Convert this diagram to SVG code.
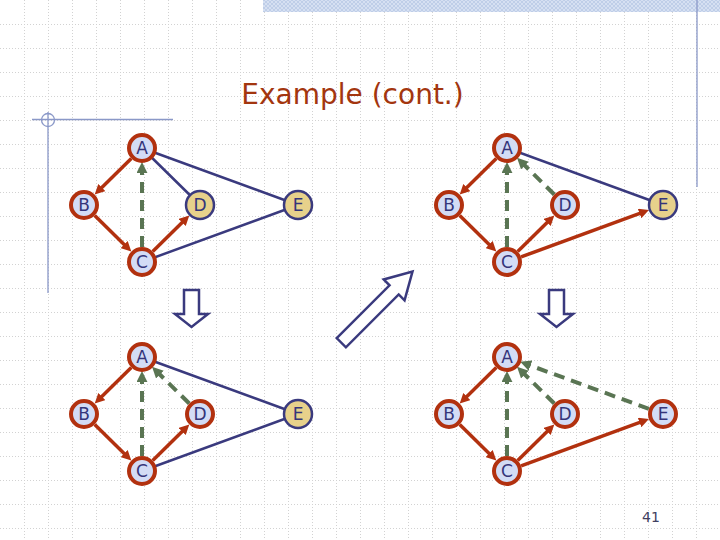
<svg xmlns="http://www.w3.org/2000/svg" width="720" height="540" viewBox="0 0 720 540">
<defs>
<style>
.grid{stroke:#d2d2d2;stroke-width:1;stroke-dasharray:1 2;fill:none}
.deco{stroke:#8a98c8;stroke-width:1.3;fill:none}
.title{font-family:"DejaVu Sans",Verdana,sans-serif;font-size:28px;fill:#a3360f}
.lbl{font-family:"DejaVu Sans",Verdana,sans-serif;font-size:17px;fill:#35357a;text-anchor:middle}
.num{font-family:"DejaVu Sans",Verdana,sans-serif;font-size:14px;fill:#404060;text-anchor:middle}
.vis{fill:#d3dcf5;stroke:#b2310f;stroke-width:4}
.unv{fill:#e7d18b;stroke:#3a3a7e;stroke-width:2.5}
.tree{stroke:#b2310f;stroke-width:3.5;fill:none;marker-end:url(#ared)}
.back{stroke:#5a7553;stroke-width:4;fill:none;stroke-dasharray:11 7;marker-end:url(#agreen)}
.unex{stroke:#3a3a7e;stroke-width:2.5;fill:none}
.block{fill:#ffffff;stroke:#3a3a7e;stroke-width:2.5;stroke-linejoin:miter}
</style>
<marker id="ared" viewBox="0 0 10 10" refX="1" refY="5" markerWidth="10" markerHeight="10" markerUnits="userSpaceOnUse" orient="auto">
<path d="M0,0 L10,5 L0,10 z" fill="#b2310f"/>
</marker>
<marker id="agreen" viewBox="0 0 10 10" refX="1" refY="5" markerWidth="11" markerHeight="11" markerUnits="userSpaceOnUse" orient="auto">
<path d="M0,0 L10,5 L0,10 z" fill="#5a7553"/>
</marker>
<pattern id="hatch" width="4" height="4" patternUnits="userSpaceOnUse">
<rect width="4" height="4" fill="#d6e0f2"/>
<path d="M0,4 L4,0 M0,0 L4,4" stroke="#b9c9e6" stroke-width="0.8"/>
</pattern>
</defs>
<rect width="720" height="540" fill="#ffffff"/>
<g id="background">
<path class="grid" d="M0 24.5H720M0 48.5H720M0 72.5H720M0 96.5H720M0 120.5H720M0 144.5H720M0 168.5H720M0 192.5H720M0 216.5H720M0 240.5H720M0 264.5H720M0 288.5H720M0 312.5H720M0 336.5H720M0 360.5H720M0 384.5H720M0 408.5H720M0 432.5H720M0 456.5H720M0 480.5H720M0 504.5H720M0 528.5H720"/>
<path class="grid" d="M24.5 0V540M48.5 0V540M72.5 0V540M96.5 0V540M120.5 0V540M144.5 0V540M168.5 0V540M192.5 0V540M216.5 0V540M240.5 0V540M264.5 0V540M288.5 0V540M312.5 0V540M336.5 0V540M360.5 0V540M384.5 0V540M408.5 0V540M432.5 0V540M456.5 0V540M480.5 0V540M504.5 0V540M528.5 0V540M552.5 0V540M576.5 0V540M600.5 0V540M624.5 0V540M648.5 0V540M672.5 0V540M696.5 0V540"/>
<rect x="263" y="0" width="457" height="12" fill="url(#hatch)"/>
<path class="deco" d="M697 0V187"/>
<path class="deco" d="M32 119.5H173M48 112V293"/>
<circle class="deco" cx="48" cy="120" r="6.5"/>
</g>
<text class="title" x="352.5" y="104" text-anchor="middle">Example (cont.)</text>

<!-- Top-left graph -->
<g id="graph-tl">
<g id="tl-connectors">
<path class="unex" d="M142 148L200 205M142 148L298 205M142 262L298 205"/>
<path class="tree" d="M131.3 158.5L101.1 188.2"/>
<path class="tree" d="M94.7 215.5L124.9 245.2"/>
<path class="tree" d="M152.7 251.5L182.9 221.8"/>
<path class="back" d="M142 247V172"/>
</g>
<g id="tl-A"><circle class="vis" cx="142" cy="148" r="13"/><text class="lbl" x="142" y="154">A</text></g>
<g id="tl-B"><circle class="vis" cx="84" cy="205" r="13"/><text class="lbl" x="84" y="211">B</text></g>
<g id="tl-C"><circle class="vis" cx="142" cy="262" r="13"/><text class="lbl" x="142" y="268">C</text></g>
<g id="tl-D"><circle class="unv" cx="200" cy="205" r="14"/><text class="lbl" x="200" y="211">D</text></g>
<g id="tl-E"><circle class="unv" cx="298" cy="205" r="14"/><text class="lbl" x="298" y="211">E</text></g>
</g>

<!-- Top-right graph -->
<g id="graph-tr" transform="translate(365,0)">
<g id="tr-connectors">
<path class="unex" d="M142 148L298 205"/>
<path class="tree" d="M131.3 158.5L101.1 188.2"/>
<path class="tree" d="M94.7 215.5L124.9 245.2"/>
<path class="tree" d="M152.7 251.5L182.9 221.8"/>
<path class="tree" d="M156.1 256.9L275.5 213.2"/>
<path class="back" d="M142 247V172"/>
<path class="back" d="M189.3 194.5L159.1 164.8"/>
</g>
<g id="tr-A"><circle class="vis" cx="142" cy="148" r="13"/><text class="lbl" x="142" y="154">A</text></g>
<g id="tr-B"><circle class="vis" cx="84" cy="205" r="13"/><text class="lbl" x="84" y="211">B</text></g>
<g id="tr-C"><circle class="vis" cx="142" cy="262" r="13"/><text class="lbl" x="142" y="268">C</text></g>
<g id="tr-D"><circle class="vis" cx="200" cy="205" r="13"/><text class="lbl" x="200" y="211">D</text></g>
<g id="tr-E"><circle class="unv" cx="298" cy="205" r="14"/><text class="lbl" x="298" y="211">E</text></g>
</g>

<!-- Bottom-left graph -->
<g id="graph-bl" transform="translate(0,209)">
<g id="bl-connectors">
<path class="unex" d="M142 148L298 205M142 262L298 205"/>
<path class="tree" d="M131.3 158.5L101.1 188.2"/>
<path class="tree" d="M94.7 215.5L124.9 245.2"/>
<path class="tree" d="M152.7 251.5L182.9 221.8"/>
<path class="back" d="M142 247V172"/>
<path class="back" d="M189.3 194.5L159.1 164.8"/>
</g>
<g id="bl-A"><circle class="vis" cx="142" cy="148" r="13"/><text class="lbl" x="142" y="154">A</text></g>
<g id="bl-B"><circle class="vis" cx="84" cy="205" r="13"/><text class="lbl" x="84" y="211">B</text></g>
<g id="bl-C"><circle class="vis" cx="142" cy="262" r="13"/><text class="lbl" x="142" y="268">C</text></g>
<g id="bl-D"><circle class="vis" cx="200" cy="205" r="13"/><text class="lbl" x="200" y="211">D</text></g>
<g id="bl-E"><circle class="unv" cx="298" cy="205" r="14"/><text class="lbl" x="298" y="211">E</text></g>
</g>

<!-- Bottom-right graph -->
<g id="graph-br" transform="translate(365,209)">
<g id="br-connectors">
<path class="tree" d="M131.3 158.5L101.1 188.2"/>
<path class="tree" d="M94.7 215.5L124.9 245.2"/>
<path class="tree" d="M152.7 251.5L182.9 221.8"/>
<path class="tree" d="M156.1 256.9L275.5 213.2"/>
<path class="back" d="M142 247V172"/>
<path class="back" d="M189.3 194.5L159.1 164.8"/>
<path class="back" d="M283.9 199.9L164.5 156.2"/>
</g>
<g id="br-A"><circle class="vis" cx="142" cy="148" r="13"/><text class="lbl" x="142" y="154">A</text></g>
<g id="br-B"><circle class="vis" cx="84" cy="205" r="13"/><text class="lbl" x="84" y="211">B</text></g>
<g id="br-C"><circle class="vis" cx="142" cy="262" r="13"/><text class="lbl" x="142" y="268">C</text></g>
<g id="br-D"><circle class="vis" cx="200" cy="205" r="13"/><text class="lbl" x="200" y="211">D</text></g>
<g id="br-E"><circle class="vis" cx="298" cy="205" r="13"/><text class="lbl" x="298" y="211">E</text></g>
</g>

<!-- Step arrows -->
<g id="step-arrows">
<polygon class="block" points="184,290 199,290 199,314 208,314 191.5,327 175,314 184,314"/>
<polygon class="block" points="549,290 564,290 564,314 573,314 556.5,327 540,314 549,314"/>
<polygon class="block" transform="translate(341.3,342.7) rotate(-45)" points="0,-6.5 74.7,-6.5 74.7,-14.75 100.7,0 74.7,14.75 74.7,6.5 0,6.5"/>
</g>
<text class="num" x="651" y="522">41</text>
</svg>
